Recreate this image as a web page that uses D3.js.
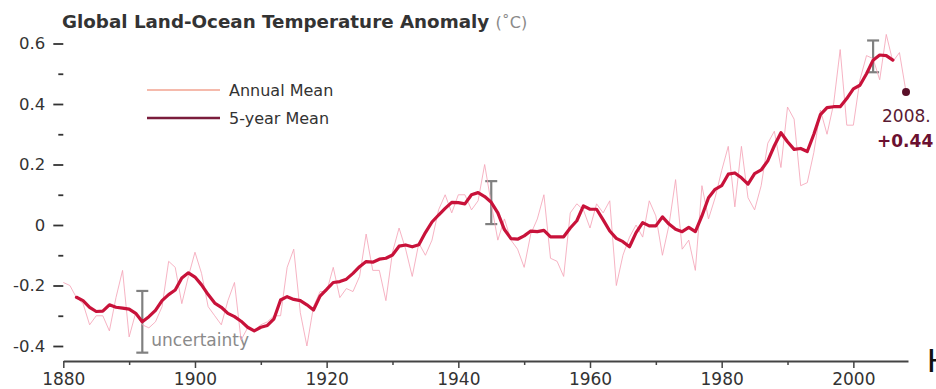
<!DOCTYPE html>
<html>
<head>
<meta charset="utf-8">
<script src="https://cdn.jsdelivr.net/npm/d3@7"></script>
<style>
  html, body { margin: 0; padding: 0; background: #fff; }
  svg { display: block; font-family: "DejaVu Sans", sans-serif; }
</style>
</head>
<body>
<svg id="chart" width="936" height="389"></svg>
<script>
// GISS global land-ocean temperature anomaly (°C), annual mean from 1880
const annualStart = 1880;
const annualMean = [
  -0.19, -0.20, -0.24, -0.26, -0.33, -0.30, -0.30, -0.35, -0.24, -0.15,
  -0.37, -0.29, -0.33, -0.34, -0.32, -0.27, -0.12, -0.14, -0.26, -0.17,
  -0.09, -0.16, -0.27, -0.30, -0.33, -0.25, -0.19, -0.38, -0.34, -0.35,
  -0.33, -0.32, -0.30, -0.30, -0.14, -0.08, -0.29, -0.40, -0.27, -0.22,
  -0.22, -0.14, -0.24, -0.21, -0.22, -0.17, -0.03, -0.15, -0.15, -0.25,
  -0.09, -0.01, -0.08, -0.17, -0.06, -0.10, -0.05, 0.05, 0.10, 0.04,
  0.10, 0.10, 0.05, 0.08, 0.20, 0.07, -0.05, 0.02, -0.05, -0.08,
  -0.14, -0.03, 0.02, 0.10, -0.11, -0.12, -0.17, 0.04, 0.07, 0.05,
  -0.01, 0.07, 0.04, 0.08, -0.20, -0.10, -0.04, 0.00, -0.04, 0.08,
  0.03, -0.10, 0.00, 0.15, -0.08, -0.05, -0.15, 0.13, 0.02, 0.09,
  0.18, 0.26, 0.06, 0.26, 0.09, 0.05, 0.13, 0.27, 0.31, 0.19,
  0.39, 0.35, 0.13, 0.14, 0.24, 0.38, 0.30, 0.40, 0.58, 0.33,
  0.33, 0.48, 0.56, 0.55, 0.48, 0.63, 0.54, 0.57, 0.44
];

// Centred five-year running mean, 1882-2006
const fiveYearStart = 1882;
const fiveYearMean = [
  -0.239, -0.250, -0.272, -0.286, -0.285, -0.264, -0.272, -0.275,
  -0.278, -0.292, -0.320, -0.303, -0.282, -0.250, -0.230, -0.215, -0.175, -0.158,
  -0.172, -0.198, -0.230, -0.258, -0.272, -0.292, -0.303, -0.318, -0.338, -0.350,
  -0.338, -0.332, -0.310, -0.248, -0.237, -0.246, -0.250, -0.264, -0.281, -0.235,
  -0.213, -0.190, -0.187, -0.179, -0.160, -0.138, -0.121, -0.123, -0.113, -0.110,
  -0.099, -0.070, -0.066, -0.072, -0.065, -0.025, 0.010, 0.033, 0.055, 0.075,
  0.074, 0.070, 0.100, 0.107, 0.094, 0.075, 0.040, -0.015, -0.045, -0.047,
  -0.036, -0.020, -0.022, -0.018, -0.039, -0.039, -0.039, -0.010, 0.014, 0.063,
  0.052, 0.052, 0.017, -0.020, -0.044, -0.055, -0.072, -0.025, 0.008, -0.003,
  -0.003, 0.027, 0.003, -0.014, -0.022, -0.008, -0.022, 0.030, 0.090, 0.118,
  0.130, 0.168, 0.172, 0.156, 0.135, 0.170, 0.182, 0.212, 0.262, 0.305,
  0.275, 0.250, 0.253, 0.243, 0.300, 0.365, 0.388, 0.391, 0.391, 0.418,
  0.450, 0.462, 0.500, 0.545, 0.562, 0.560, 0.545
];

// Uncertainty ranges (year, low, high)
const uncertaintyYears = [1892, 1945, 2003];
const uncertaintyLow   = [-0.422, 0.003, 0.505];
const uncertaintyHigh  = [-0.218, 0.145, 0.610];

// Axis ticks
const yMajorTicks = [-0.4, -0.2, 0, 0.2, 0.4, 0.6];
const yMinorTicks = [-0.3, -0.1, 0.1, 0.3, 0.5];
const xMajorTicks = [1880, 1900, 1920, 1940, 1960, 1980, 2000];
const xMinorTicks = [1890, 1910, 1930, 1950, 1970, 1990];

const latestYear = 2008;
const latestValue = 0.44;

const svg = d3.select("#chart");

const x = d3.scaleLinear().domain([1880, 2008.3]).range([63.3, 908]);
const y = d3.scaleLinear().domain([-0.4, 0.6]).range([346, 43.5]);
const axisY = 361;

// Plain hyphen for negative tick labels
const fmt = d3.formatLocale({ decimal: ".", thousands: ",", grouping: [3], currency: ["", ""], minus: "-" });

const annual = annualMean.map((v, i) => ({ year: annualStart + i, value: v }));
const fiveYear = fiveYearMean.map((v, i) => ({ year: fiveYearStart + i, value: v }));

// Title
const title = svg.append("text")
  .attr("x", 62).attr("y", 28)
  .attr("font-size", 18.3).attr("font-weight", "bold").attr("fill", "#333");
title.append("tspan").text("Global Land-Ocean Temperature Anomaly ");
title.append("tspan").attr("font-weight", "normal").attr("fill", "#8a8a8a")
  .attr("font-size", 16).text("(˚C)");

// Y axis: tick dashes with labels, no spine
const yAxisMajor = d3.axisLeft(y).tickValues(yMajorTicks).tickSize(10).tickPadding(8)
  .tickFormat(d => d === 0 ? "0" : fmt.format(".1f")(d));
const yAxisMinor = d3.axisLeft(y).tickValues(yMinorTicks).tickSize(5).tickFormat("");

const gy = svg.append("g").attr("transform", "translate(63.3,0)").call(yAxisMajor);
const gy2 = svg.append("g").attr("transform", "translate(63.3,0)").call(yAxisMinor);
[gy, gy2].forEach(g => {
  g.select(".domain").remove();
  g.selectAll(".tick line").attr("stroke", "#333").attr("stroke-width", 1.8);
  g.selectAll(".tick text").attr("fill", "#333").attr("font-size", 16.5)
    .attr("font-family", "DejaVu Sans, sans-serif");
});

// X axis
const xAxisMajor = d3.axisBottom(x).tickValues(xMajorTicks).tickSize(7).tickSizeOuter(0)
  .tickPadding(5).tickFormat(d3.format("d"));
const xAxisMinor = d3.axisBottom(x).tickValues(xMinorTicks).tickSize(4).tickFormat("");

const gx = svg.append("g").attr("transform", `translate(0,${axisY})`).call(xAxisMajor);
const gx2 = svg.append("g").attr("transform", `translate(0,${axisY})`).call(xAxisMinor);
gx2.select(".domain").remove();
gx.select(".domain").attr("stroke", "#444").attr("stroke-width", 2);
[gx, gx2].forEach(g => {
  g.selectAll(".tick line").attr("stroke", "#444").attr("stroke-width", 1.5);
  g.selectAll(".tick text").attr("fill", "#333").attr("font-size", 17)
    .attr("font-family", "DejaVu Sans, sans-serif");
});

// Uncertainty bars
const bars = svg.append("g").attr("stroke", "#808080").attr("stroke-width", 2.2).attr("fill", "none");
uncertaintyYears.forEach((yr, i) => {
  const cx = x(yr), y0 = y(uncertaintyLow[i]), y1 = y(uncertaintyHigh[i]);
  bars.append("line").attr("x1", cx).attr("x2", cx).attr("y1", y0).attr("y2", y1);
  bars.append("line").attr("x1", cx - 6).attr("x2", cx + 6).attr("y1", y0).attr("y2", y0);
  bars.append("line").attr("x1", cx - 6).attr("x2", cx + 6).attr("y1", y1).attr("y2", y1);
});
svg.append("text")
  .attr("x", x(uncertaintyYears[0]) + 9).attr("y", 346)
  .attr("font-size", 17).attr("fill", "#8a8a8a").text("uncertainty");

// Lines
const line = d3.line().x(d => x(d.year)).y(d => y(d.value));

svg.append("path").datum(annual)
  .attr("d", line).attr("fill", "none")
  .attr("stroke", "#f5a6b8").attr("stroke-opacity", 0.85).attr("stroke-width", 1)
  .attr("stroke-linejoin", "round");

svg.append("path").datum(fiveYear)
  .attr("d", line).attr("fill", "none")
  .attr("stroke", "#c8123a").attr("stroke-width", 3.2)
  .attr("stroke-linejoin", "round").attr("stroke-linecap", "round");

// Latest year marker and label
svg.append("circle").attr("cx", x(latestYear)).attr("cy", y(latestValue))
  .attr("r", 4).attr("fill", "#5a0f28");
svg.append("text").attr("x", x(latestYear) - 24).attr("y", 122)
  .attr("font-size", 17).attr("fill", "#5a1a33").text(latestYear + ".");
svg.append("text").attr("x", x(latestYear) - 29).attr("y", 147)
  .attr("font-size", 17).attr("font-weight", "bold").attr("fill", "#6b1030")
  .text("+" + d3.format(".2f")(latestValue));

// Legend
const legend = svg.append("g");
legend.append("line").attr("x1", 147).attr("x2", 220).attr("y1", 90).attr("y2", 90)
  .attr("stroke", "#f2a390").attr("stroke-width", 1.5);
legend.append("text").attr("x", 229).attr("y", 95.5).attr("font-size", 16)
  .attr("fill", "#333").text("Annual Mean");
legend.append("line").attr("x1", 147).attr("x2", 220).attr("y1", 118).attr("y2", 118)
  .attr("stroke", "#7a1d3c").attr("stroke-width", 2.5);
legend.append("text").attr("x", 229).attr("y", 123.5).attr("font-size", 16)
  .attr("fill", "#333").text("5-year Mean");

// Edge glyph at lower right
svg.append("text").attr("x", 927).attr("y", 372)
  .attr("font-family", "Liberation Sans, sans-serif").attr("font-size", 34)
  .attr("fill", "#111").text("H");
</script>
</body>
</html>
